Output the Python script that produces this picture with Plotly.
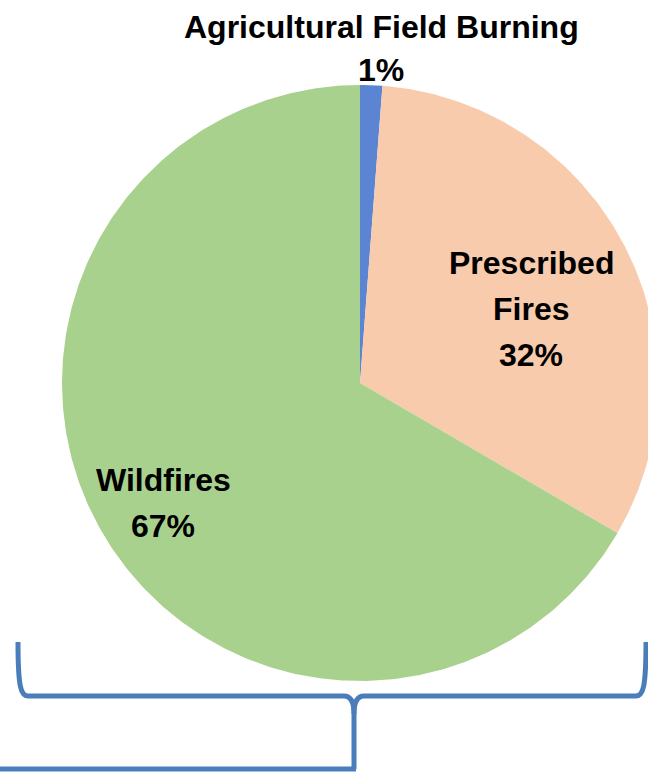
import numpy as np
import plotly.graph_objects as go

# ---- data ----
labels = ["Agricultural Field Burning", "Prescribed Fires", "Wildfires"]
label_lines = [["Agricultural Field Burning"], ["Prescribed", "Fires"], ["Wildfires"]]
values = [1.2, 32.2, 66.6]
colors = ["#5B84D2", "#F8CBAD", "#A9D18E"]

W, H = 648, 774
cx, cy, r = 360, 383, 298

fig = go.Figure()

total = sum(values)
start = 0.0
for lab, v, c in zip(labels, values, colors):
    a0 = start / total * 2 * np.pi
    a1 = (start + v) / total * 2 * np.pi
    th = np.linspace(a0, a1, max(8, int(v * 6)))
    xs = np.concatenate([[cx], cx + r * np.sin(th), [cx]])
    ys = np.concatenate([[cy], cy - r * np.cos(th), [cy]])
    fig.add_trace(go.Scatter(x=xs, y=ys, fill="toself", fillcolor=c, mode="lines",
                             line=dict(width=0, color=c), name=lab, hoverinfo="name"))
    start += v

pcts = [f"{round(v / total * 100)}%" for v in values]

font = dict(family="Liberation Sans, Arial, sans-serif", size=32, color="#000000")
# label positions (px)
label_pos = [
    (381, [27], 70),
    (531, [263, 309], 355),
    (163, [480], 526),
]
for lines, pct, (x, ys_, yp) in zip(label_lines, pcts, label_pos):
    for t, y in zip(lines, ys_):
        fig.add_annotation(x=x, y=y, text=f"<b>{t}</b>", showarrow=False, font=font,
                           xanchor="center", yanchor="middle")
    fig.add_annotation(x=x, y=yp, text=f"<b>{pct}</b>", showarrow=False, font=font,
                       xanchor="center", yanchor="middle")

bc = "#4A7EBB"
fig.add_shape(type="path",
              path="M 18 642 C 18 688, 21 696, 28 696 L 344 696 C 351 696, 354 702, 354 714 L 354 769",
              line=dict(color=bc, width=5))
fig.add_shape(type="path",
              path="M 646 642 C 646 688, 643 696, 636 696 L 364 696 C 357 696, 354 702, 354 714",
              line=dict(color=bc, width=5))
fig.add_shape(type="path", path="M 0 769 L 356 769", line=dict(color=bc, width=5))

fig.update_xaxes(range=[0, W], visible=False, fixedrange=True)
fig.update_yaxes(range=[H, 0], visible=False, fixedrange=True)
fig.update_layout(width=W, height=H, margin=dict(l=0, r=0, t=0, b=0),
                  paper_bgcolor="white", plot_bgcolor="white", showlegend=False)

fig.write_html("out.html")
